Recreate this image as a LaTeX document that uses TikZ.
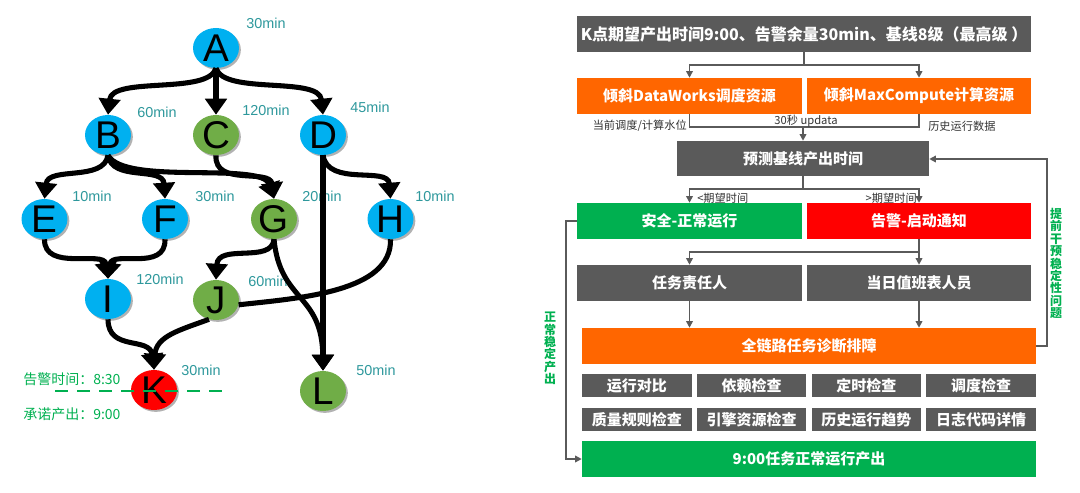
\documentclass[tikz,border=0pt]{standalone}
\usepackage{fontspec}
\setmainfont{Liberation Sans}
\newfontfamily\cjk{Noto Sans CJK SC}
\usetikzlibrary{arrows.meta,shapes.geometric,shadows,calc}
\definecolor{nblue}{HTML}{00B0F0}
\definecolor{ngreen}{HTML}{70AD47}
\definecolor{nred}{HTML}{FF0000}
\definecolor{tealtxt}{HTML}{2E989C}
\definecolor{dgray}{HTML}{5A5A5A}
\definecolor{orng}{HTML}{FF6600}
\definecolor{bgreen}{HTML}{00B050}
\definecolor{txtgray}{HTML}{333333}
\begin{document}
\begin{tikzpicture}[x=0.75pt,y=-0.75pt,
  gnode/.style={ellipse, minimum width=34.5pt, minimum height=30pt, inner sep=0pt,
    font=\fontsize{29}{29}\selectfont,
    drop shadow={shadow xshift=1.4pt,shadow yshift=-1.4pt,fill=black,opacity=.3}},
  tlabel/.style={text=tealtxt, font=\fontsize{10.8}{12}\selectfont, inner sep=0pt},
  glabel/.style={text=bgreen, font=\cjk\fontsize{10.5}{12}\selectfont, inner sep=0pt, anchor=west},
  bigedge/.style={line width=3.8pt, -{Triangle[length=12pt,width=16pt]}},
  plainedge/.style={line width=3.8pt},
  pxw/.style={minimum width=#1*0.75pt},
  pxh/.style={minimum height=#1*0.75pt},
  box/.style={rectangle, inner sep=0pt, text=white, font=\cjk\bfseries\fontsize{11.25}{12}\selectfont},
  gedge/.style={draw=dgray, line width=1.1pt, -{Triangle[length=5pt,width=5pt]}},
  gline/.style={draw=dgray, line width=1.1pt},
  smalltxt/.style={text=txtgray, font=\cjk\fontsize{8.4}{9}\selectfont, inner sep=0pt},
  vlabel/.style={text=bgreen, align=center, inner sep=0pt, font=\cjk\bfseries\fontsize{9}{9.35}\selectfont}
]
\useasboundingbox (0,0) rectangle (1080,492);

% ---------- left graph: labels ----------
\node[tlabel] (lA) at (266,23) {30min};
\node[tlabel] (lB) at (157,112) {60min};
\node[tlabel] (lC) at (266,110) {120min};
\node[tlabel] (lD) at (370,107) {45min};
\node[tlabel] (lE) at (92,196) {10min};
\node[tlabel] (lF) at (215,196) {30min};
\node[tlabel] (lG) at (322,196) {20min};
\node[tlabel] (lH) at (435,196) {10min};
\node[tlabel] (lI) at (160,279) {120min};
\node[tlabel] (lJ) at (268,281) {60min};
\node[tlabel] (lK) at (201,370) {30min};
\node[tlabel] (lL) at (376,370) {50min};

\node[glabel] (al) at (23,379) {告警时间：8:30};
\node[glabel] (pr) at (23,414) {承诺产出：9:00};

% ---------- nodes ----------
\node[gnode, fill=nblue] (A) at (216,48) {A};
\node[gnode, fill=nblue] (B) at (108,135) {B};
\node[gnode, fill=ngreen] (C) at (216,135) {C};
\node[gnode, fill=nblue] (D) at (323,135) {D};
\node[gnode, fill=nblue] (E) at (44.5,219) {E};
\node[gnode, fill=nblue] (F) at (165,219) {F};
\node[gnode, fill=ngreen] (G) at (274,219) {G};
\node[gnode, fill=nblue] (H) at (390.5,219) {H};
\node[gnode, fill=nblue] (I) at (108,299) {I};
\node[gnode, fill=ngreen] (J) at (216,300) {J};
\node[gnode, fill=nred] (K) at (154,390) {K};
\node[gnode, fill=ngreen] (L) at (323,391) {L};

% ---------- edges ----------
\draw[bigedge] (A.south) .. controls (208,95) and (112,76) .. (B.north);
\draw[bigedge] (A.south) -- (C.north);
\draw[bigedge] (A.south) .. controls (224,95) and (319,76) .. (D.north);
\draw[bigedge] (B.south) .. controls (104,182) and (48,166) .. (E.north);
\draw[bigedge] (B.south) .. controls (112,182) and (163,166) .. (F.north);
\draw[bigedge] (B.south) .. controls (125,186) and (262,161) .. (G.north);
\draw[bigedge] (C.south) .. controls (214,187) and (270,168) .. (G.north);
\draw[bigedge] (D.south) .. controls (328,187) and (388,166) .. (H.north);
\draw[bigedge] (D.south) -- (L.north);
\draw[bigedge] (E.south) .. controls (44,272) and (104,250) .. (I.north);
\draw[bigedge] (F.south) .. controls (166,272) and (112,250) .. (I.north);
\draw[bigedge] (G.south) .. controls (272,264) and (218,243) .. (J.north);
\draw[bigedge] (G.south) .. controls (280,302) and (322,293) .. (L.north);
\draw[plainedge] (H.south) .. controls (392,292) and (300,298) .. (J.-12);
\draw[bigedge] (I.south) .. controls (108,352) and (150,336) .. (K.north);
\draw[bigedge] (J.250) .. controls (180,330) and (156,336) .. (K.north);

% dashed alarm line
\coordinate (dl) at (55,391);
\coordinate (dr) at (227,391);
\draw[bgreen, line width=2.2pt, dash pattern=on 9.75pt off 6.75pt] (dl) -- (dr);

% ---------- right flow chart ----------
\node[box, fill=dgray, pxw=454, pxh=36, font=\cjk\bfseries\fontsize{12}{12}\selectfont] (T) at (804,34)
  {K点期望产出时间9:00、告警余量30min、基线8级（最高级 ）};
\node[box, fill=orng, pxw=225, pxh=36] (O1) at (689.5,96) {倾斜DataWorks调度资源};
\node[box, fill=orng, pxw=224, pxh=36] (O2) at (919,96) {倾斜MaxCompute计算资源};
\node[box, fill=dgray, pxw=252, pxh=35] (P) at (803,158.5) {预测基线产出时间};
\node[box, fill=bgreen, pxw=225, pxh=36] (S) at (689.5,221) {安全-正常运行};
\node[box, fill=nred, pxw=224, pxh=36] (R) at (919,221) {告警-启动通知};
\node[box, fill=dgray, pxw=225, pxh=36] (M1) at (689.5,283) {任务责任人};
\node[box, fill=dgray, pxw=224, pxh=36] (M2) at (919,283) {当日值班表人员};
\node[box, fill=orng, pxw=454, pxh=36] (Z) at (809,346) {全链路任务诊断排障};

\node[box, fill=dgray, pxw=109.75, pxh=23.5] (c11) at (636.9,385.5) {运行对比};
\node[box, fill=dgray, pxw=109.75, pxh=23.5] (c12) at (751.6,385.5) {依赖检查};
\node[box, fill=dgray, pxw=109.75, pxh=23.5] (c13) at (866.4,385.5) {定时检查};
\node[box, fill=dgray, pxw=109.75, pxh=23.5] (c14) at (981.1,385.5) {调度检查};
\node[box, fill=dgray, pxw=109.75, pxh=23.5] (c21) at (636.9,419.5) {质量规则检查};
\node[box, fill=dgray, pxw=109.75, pxh=23.5] (c22) at (751.6,419.5) {引擎资源检查};
\node[box, fill=dgray, pxw=109.75, pxh=23.5] (c23) at (866.4,419.5) {历史运行趋势};
\node[box, fill=dgray, pxw=109.75, pxh=23.5] (c24) at (981.1,419.5) {日志代码详情};
\node[box, fill=bgreen, pxw=454, pxh=36] (N) at (809,459) {9:00任务正常运行产出};

% connectors
\coordinate (tj) at (804,65);
\draw[gline] (T.south) -- (tj);
\draw[gedge] (tj) -| (O1.north);
\draw[gedge] (tj) -| (O2.north);

\coordinate (oj) at (803,127);
\draw[gline] (O1.south) |- (oj) -| (O2.south);
\draw[gedge] (oj) -- (P.north);
\node[smalltxt, anchor=east] (w1) at (687,126) {当前调度/计算水位};
\node[smalltxt] (w2) at (806,121.5) {30秒 updata};
\node[smalltxt, anchor=west] (w3) at (928,126) {历史运行数据};

\coordinate (pj) at (803,189);
\draw[gline] (P.south) -- (pj);
\draw[gedge] (pj) -| (S.north);
\draw[gedge] (pj) -| (R.north);
\node[smalltxt, anchor=west] (e1) at (697,198) {<期望时间};
\node[smalltxt, anchor=east] (e2) at (917,198) {>期望时间};

\coordinate (rj) at (919,252);
\draw[gedge] (R.south) -- (M2.north);
\draw[gedge] (rj) -| (M1.north);

\draw[gedge] (M1.south) -- (M1.south |- Z.north);
\draw[gedge] (M2.south) -- (M2.south |- Z.north);

\coordinate (fb1) at (1047,346);
\coordinate (fb2) at (1047,159);
\draw[gedge] (Z.east) -- (fb1) -- (fb2) -- (P.east |- fb2);
\node[vlabel] (v2) at (1056,263.5) {提\\前\\干\\预\\稳\\定\\性\\问\\题};

\coordinate (lb1) at (566,221);
\coordinate (lb2) at (566,459);
\draw[gedge] (S.west) -- (lb1) -- (lb2) -- (N.west);
\node[vlabel] (v1) at (550,348.5) {正\\常\\稳\\定\\产\\出};
\end{tikzpicture}
\end{document}
